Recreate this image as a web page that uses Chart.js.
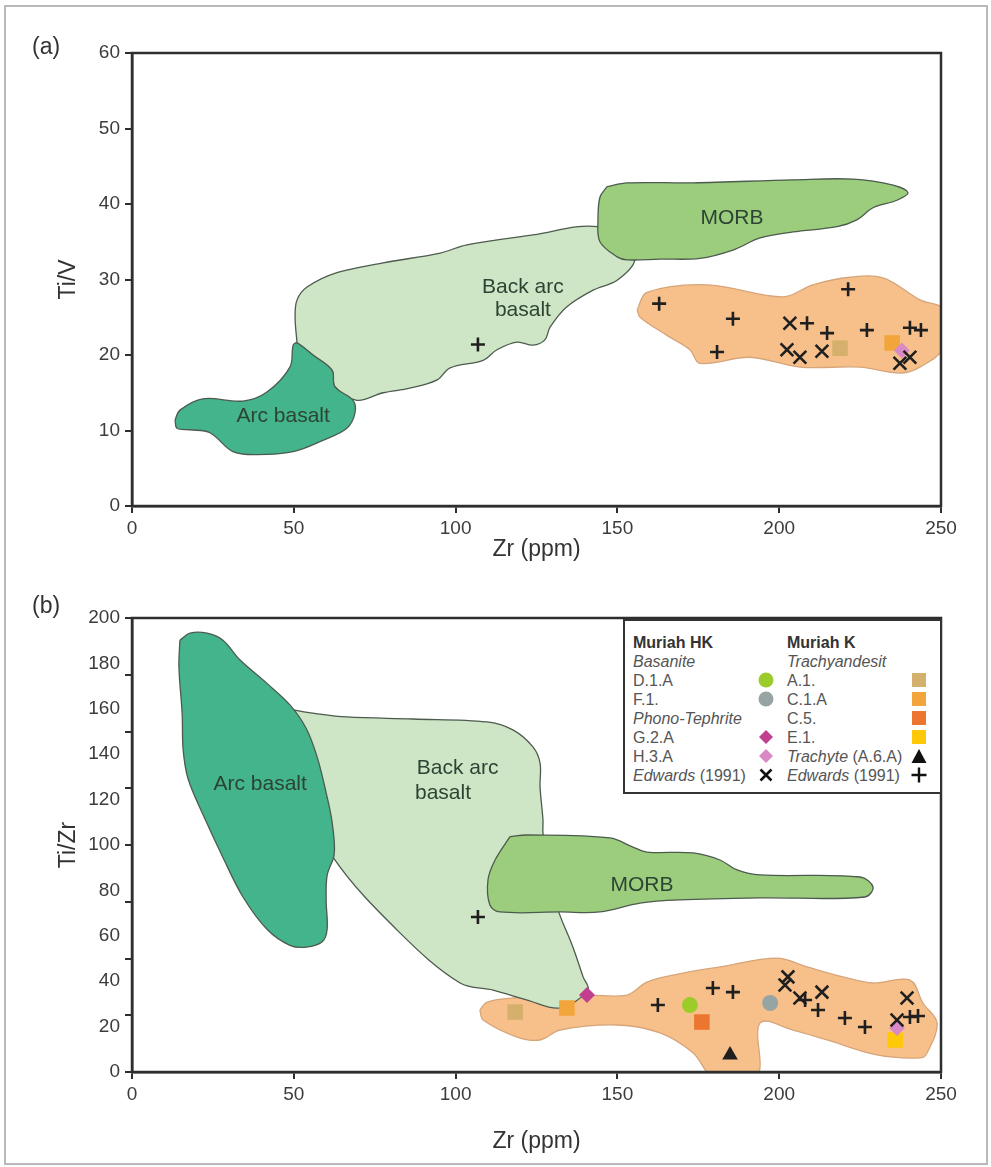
<!DOCTYPE html>
<html>
<head>
<meta charset="utf-8">
<script src="https://cdn.jsdelivr.net/npm/chart.js@4.4.1/dist/chart.umd.min.js"></script>
<style>
  body { margin: 0; background: #fff; }
  #page { position: relative; width: 991px; height: 1167px; overflow: hidden; font-family: "Liberation Sans", Arial, sans-serif; color: #333; }
  #frame { position: absolute; left: 4px; top: 5px; width: 984px; height: 1160px; border: 2px solid #b9b9b9; box-sizing: border-box; }
  canvas { position: absolute; left: 0; }
  #chartA { top: 0; }
  #chartB { top: 575px; }
  .tag { position: absolute; left: 32px; font-size: 23px; color: #333; }
  #legend { position: absolute; left: 623px; top: 619px; width: 319px; height: 175px; box-sizing: border-box;
            border: 2px solid #333; background: #fff; font-size: 16px; color: #555; }
  #legend .row { position: absolute; height: 19px; line-height: 19px; white-space: nowrap; }
  #legend b { color: #333; }
  #legend svg { position: absolute; width: 18px; height: 18px; }
</style>
</head>
<body>
<div id="page">
  <div id="frame"></div>
  <canvas id="chartA" width="991" height="575"></canvas>
  <canvas id="chartB" width="991" height="592"></canvas>
  <div class="tag" style="top:33px">(a)</div>
  <div class="tag" style="top:592px">(b)</div>
  <div id="legend"></div>
</div>
<script>
// axis ticks
const zrTicks = [0, 50, 100, 150, 200, 250];
const tiVTicks = [0, 10, 20, 30, 40, 50, 60];
const tiZrTicks = [0, 20, 40, 60, 80, 100, 120, 140, 160, 180, 200];

// fields, panel (a): [Zr, Ti/V]
const arcA = [[13.3,11.4],[14.8,12.7],[21.9,14.2],[34.3,13.9],[41.7,15.1],[48.8,18.4],[49.8,21.3],[51.0,21.6],[55.9,20.0],
  [61.8,18.0],[62.7,15.8],[68.3,14.0],[68.9,12.3],[66.4,10.3],[59.0,8.7],[49.8,7.2],[38.6,6.8],[31.2,7.2],[24.1,9.7],
  [17.9,10.1],[13.9,10.3],[13.3,11.4]];
const backArcA = [[51.0,21.6],[50.4,25.0],[51.0,27.3],[54.1,29.0],[63.3,30.9],[77.6,32.2],[95.2,33.5],[103.5,34.6],
  [123.9,35.9],[143.7,37.0],[151.7,34.3],[155.4,32.6],[149.9,29.9],[142.5,28.6],[134.4,26.4],[129.2,23.7],[127.6,22.0],
  [123.9,21.3],[119.0,21.7],[112.8,20.7],[108.5,19.3],[98.3,18.3],[94.3,16.7],[85.9,15.6],[77.6,15.0],[69.5,14.0],
  [62.7,15.8],[61.8,18.0],[55.9,20.0],[51.0,21.6]];
const morbA = [[146.8,42.3],[153.0,42.8],[173.4,42.8],[204.3,43.2],[222.8,43.3],[235.2,42.5],[239.8,41.5],[236.4,40.5],
  [229.0,39.5],[224.0,37.9],[217.9,37.0],[204.3,36.3],[194.1,35.5],[185.7,33.9],[175.5,32.8],[163.2,32.7],[153.0,32.6],
  [149.9,33.0],[144.6,35.0],[144.0,37.9],[144.6,40.9],[146.8,42.3]];
const muriahA = [[156.1,26.0],[159.1,28.3],[177.7,29.3],[201.2,27.7],[210.4,29.3],[221.9,30.3],[232.1,30.2],[243.5,27.3],
  [251,26.0],[251,21.1],[243.5,18.4],[237.3,17.6],[225.0,18.4],[206.4,18.4],[191.0,19.7],[175.5,18.9],[172.4,20.7],
  [165.3,22.6],[157.0,25.0],[156.1,26.0]];

// samples, panel (a)
const edwPlusA = [[106.9,21.4],[162.9,26.8],[185.7,24.8],[180.8,20.4],[208.6,24.2],[214.8,22.9],[221.3,28.7],[227.1,23.3],[240.4,23.6],[243.8,23.3]];
const edwCrossA = [[203.3,24.2],[202.4,20.7],[206.4,19.7],[213.2,20.5],[240.4,19.7],[237.3,18.9]];
const a1A = [[218.8,20.9]];
const c1aA = [[234.9,21.6]];
const h3aA = [[237.9,20.6]];

// fields, panel (b): [Zr, Ti/Zr]
const arcB = [[14.8,190.2],[17.9,193.3],[23.2,193.3],[28.1,190.2],[33.4,181.5],[41.7,171.2],[48.8,161.7],[53.8,151.4],
  [57.2,138.8],[60.0,123.0],[61.8,110.4],[62.5,96.1],[60.3,86.6],[60.0,75.6],[60.3,62.9],[58.8,57.4],[53.8,55.0],
  [48.8,55.8],[41.7,62.9],[34.3,77.1],[28.1,94.5],[21.9,113.5],[17.3,129.3],[15.8,142.0],[15.5,157.8],[14.5,178.3],[14.8,190.2]];
const backArcB = [[49.8,159.5],[55.9,158.1],[66.4,156.4],[86.8,155.5],[109.7,154.2],[117.7,150.7],[123.9,143.2],[126.1,136.1],
  [126.1,125.6],[127.0,111.0],[127.0,105.3],[129.0,85.0],[132.0,70.0],[135.4,58.1],[136.9,52.4],[139.4,41.9],[140.9,36.1],
  [132.3,28.2],[122.1,31.7],[111.6,36.1],[101.4,39.2],[82.8,61.3],[62.1,94.7],[50.0,130.0],[49.8,159.5]];
const morbB = [[116.8,103.7],[122.1,104.4],[147.7,103.1],[154.8,99.1],[159.1,96.9],[173.4,96.5],[181.7,93.4],[187.0,89.0],
  [194.1,86.8],[225.0,85.9],[229.0,81.5],[226.5,77.1],[194.1,76.7],[169.3,75.8],[157.0,74.4],[144.6,70.5],[132.3,70.5],
  [113.7,70.5],[110.6,73.6],[110.0,84.6],[112.2,93.4],[116.8,103.7]];
const muriahB = [[107.5,27.3],[109.7,30.8],[117.7,32.6],[140.6,33.9],[153.0,33.9],[159.1,39.6],[167.2,42.7],[181.7,46.3],
  [199.3,50.2],[208.6,46.3],[219.7,41.9],[229.0,39.2],[240.4,40.5],[244.4,30.4],[248.8,21.6],[245.7,8.4],[243.5,6.2],
  [230.2,7.5],[214.8,14.1],[204.3,18.5],[194.1,21.6],[193.1,-2],[179.5,-2],[173.4,8.4],[163.2,17.2],[149.9,20.7],
  [132.3,18.5],[126.1,14.1],[119.0,15.4],[108.5,22.9],[107.5,27.3]];

// samples, panel (b)
const edwPlusB = [[106.9,68.3],[162.5,29.5],[179.5,37.0],[185.7,35.2],[208.0,31.7],[212.0,27.3],[220.3,23.8],[226.5,19.8],[240.4,24.2],[242.9,24.7]];
const edwCrossB = [[202.7,41.9],[201.8,38.3],[206.4,32.6],[213.2,35.2],[239.5,32.6],[236.4,22.9]];
const d1aB = [[172.4,29.5]];
const f1B = [[197.2,30.4]];
const g2aB = [[140.6,33.9]];
const h3aB = [[236.4,19.4]];
const a1B = [[118.4,26.4]];
const c1aB = [[134.4,28.2]];
const c5B = [[176.1,22.0]];
const e1B = [[235.8,14.1]];
const a6aB = [[184.8,7.5]];

const xy = arr => arr.map(p => ({ x: p[0], y: p[1] }));

const COL = {
  arc: '#43b48b', backArc: '#cee6c5', morb: '#9ccd7d', muriah: '#f7c08a',
  edge: '#4d5b4f', muriahEdge: '#d6a57a',
  d1a: '#9bcc2c', f1: '#96a5a4', g2a: '#c23f90', h3a: '#d98ac6',
  a1: '#d5b06c', c1a: '#f2a53a', c5: '#ec7630', e1: '#ffc907', ink: '#1f1f1f'
};

function field(data, fill, edge, order) {
  return { type: 'line', data: xy(data), fill: 'shape', backgroundColor: fill, borderColor: edge,
           borderWidth: 1.3, tension: 0.35, pointRadius: 0, order: order };
}
function marks(data, style, color, radius, order) {
  const line = style === 'cross' || style === 'crossRot';
  return { type: 'scatter', data: xy(data), pointStyle: style, pointRadius: radius,
           backgroundColor: color, borderColor: line ? COL.ink : color, borderWidth: line ? 2.6 : 0, order: order || 0 };
}

const frame = {
  id: 'frame',
  afterDatasetsDraw(chart) {
    const { ctx, chartArea: a } = chart;
    ctx.save();
    ctx.strokeStyle = '#2e2e2e';
    ctx.lineWidth = 2.5;
    ctx.strokeRect(a.left, a.top, a.right - a.left, a.bottom - a.top);
    ctx.restore();
  }
};

const regionText = {
  id: 'regionText',
  afterDatasetsDraw(chart, args, opts) {
    const { ctx, scales: { x, y } } = chart;
    ctx.save();
    ctx.font = '21px "Liberation Sans", Arial, sans-serif';
    ctx.fillStyle = '#2c4434';
    ctx.textAlign = 'center';
    ctx.textBaseline = 'middle';
    (opts.items || []).forEach(it => ctx.fillText(it.text, x.getPixelForValue(it.at[0]), y.getPixelForValue(it.at[1])));
    ctx.restore();
  }
};

const tickFont = { family: '"Liberation Sans", Arial, sans-serif', size: 19 };
const titleFont = { family: '"Liberation Sans", Arial, sans-serif', size: 23 };

function xAxis(height) {
  return {
    type: 'linear', min: 0, max: 250,
    afterBuildTicks: s => { s.ticks = zrTicks.map(v => ({ value: v })); },
    afterFit: s => { s.height = height; },
    ticks: { font: tickFont, color: '#3c3c3c', padding: 4, maxRotation: 0 },
    grid: { drawOnChartArea: false, tickLength: 7, color: '#2e2e2e', lineWidth: 2 },
    border: { color: '#2e2e2e', width: 2.5 },
    title: { display: true, text: 'Zr (ppm)', font: titleFont, color: '#333', padding: { bottom: 12 } }
  };
}

function yAxis(max, labelTicks, markStep, title) {
  return {
    type: 'linear', min: 0, max: max,
    afterBuildTicks: s => {
      const vals = new Set(labelTicks);
      for (let v = 0; v <= max; v += markStep) vals.add(v);
      s.ticks = [...vals].sort((a, b) => a - b).map(v => ({ value: v }));
    },
    afterFit: s => { s.width = 132; },
    ticks: {
      font: tickFont, color: '#3c3c3c', padding: 5, autoSkip: false,
      callback: v => labelTicks.includes(v) ? String(v) : ''
    },
    grid: {
      drawOnChartArea: false, tickLength: 7, lineWidth: 2,
      color: c => (c.tick && c.tick.value % markStep === 0) ? '#2e2e2e' : 'rgba(0,0,0,0)'
    },
    border: { color: '#2e2e2e', width: 2.5 },
    title: { display: true, text: title, font: titleFont, color: '#333', padding: { top: 55 } }
  };
}

function baseOptions(yScale, bottomHeight, topPad, labels) {
  return {
    responsive: false, animation: false, devicePixelRatio: 1,
    layout: { padding: { top: topPad, right: 50, left: 0, bottom: 0 } },
    scales: { x: xAxis(bottomHeight), y: yScale },
    plugins: { legend: { display: false }, tooltip: { enabled: false }, regionText: { items: labels } }
  };
}

new Chart(document.getElementById('chartA'), {
  type: 'scatter',
  data: {
    datasets: [
      marks(edwPlusA, 'cross', COL.ink, 7),
      marks(edwCrossA, 'crossRot', COL.ink, 9),
      marks(h3aA, 'rectRot', COL.h3a, 8),
      marks(a1A, 'rect', COL.a1, 11),
      marks(c1aA, 'rect', COL.c1a, 11),
      field(morbA, COL.morb, COL.edge, 1),
      field(arcA, COL.arc, COL.edge, 2),
      field(backArcA, COL.backArc, COL.edge, 3),
      field(muriahA, COL.muriah, COL.muriahEdge, 4)
    ]
  },
  options: baseOptions(yAxis(60, tiVTicks, 10, 'Ti/V'), 69, 53, [
    { text: 'Arc basalt', at: [46.7, 11.9] },
    { text: 'Back arc', at: [120.8, 29.0] },
    { text: 'basalt', at: [120.8, 25.9] },
    { text: 'MORB', at: [185.4, 38.1] }
  ]),
  plugins: [frame, regionText]
});

new Chart(document.getElementById('chartB'), {
  type: 'scatter',
  data: {
    datasets: [
      marks(edwPlusB, 'cross', COL.ink, 7),
      marks(edwCrossB, 'crossRot', COL.ink, 9),
      marks(a6aB, 'triangle', COL.ink, 9),
      marks(h3aB, 'rectRot', COL.h3a, 8),
      marks(g2aB, 'rectRot', COL.g2a, 8),
      marks(d1aB, 'circle', COL.d1a, 8),
      marks(f1B, 'circle', COL.f1, 8),
      marks(e1B, 'rect', COL.e1, 11),
      marks(c5B, 'rect', COL.c5, 11),
      marks(c1aB, 'rect', COL.c1a, 11),
      marks(a1B, 'rect', COL.a1, 11),
      field(morbB, COL.morb, COL.edge, 1),
      field(arcB, COL.arc, COL.edge, 2),
      field(backArcB, COL.backArc, COL.edge, 3),
      field(muriahB, COL.muriah, COL.muriahEdge, 4)
    ]
  },
  options: baseOptions(yAxis(200, tiZrTicks, 25, 'Ti/Zr'), 95, 43, [
    { text: 'Arc basalt', at: [39.6, 127.0] },
    { text: 'Back arc', at: [100.6, 133.9] },
    { text: 'basalt', at: [96.1, 122.9] },
    { text: 'MORB', at: [157.6, 82.4] }
  ]),
  plugins: [frame, regionText]
});

// legend of panel (b)
const legendLeft = [
  ['<b>Muriah HK</b>', null], ['<i>Basanite</i>', null], ['D.1.A', 'circle:' + COL.d1a], ['F.1.', 'circle:' + COL.f1],
  ['<i>Phono-Tephrite</i>', null], ['G.2.A', 'diamond:' + COL.g2a], ['H.3.A', 'diamond:' + COL.h3a], ['<i>Edwards</i> (1991)', 'x']
];
const legendRight = [
  ['<b>Muriah K</b>', null], ['<i>Trachyandesit</i>', null], ['A.1.', 'square:' + COL.a1], ['C.1.A', 'square:' + COL.c1a],
  ['C.5.', 'square:' + COL.c5], ['E.1.', 'square:' + COL.e1], ['<i>Trachyte</i> (A.6.A)', 'triangle'], ['<i>Edwards</i> (1991)', 'plus']
];

function symbol(kind) {
  const [shape, color] = kind.split(':');
  const body = {
    circle: `<circle cx="9" cy="9" r="7.5" fill="${color}"/>`,
    square: `<rect x="2" y="2" width="14" height="14" fill="${color}"/>`,
    diamond: `<polygon points="9,2 16,9 9,16 2,9" fill="${color}"/>`,
    triangle: `<polygon points="9,2 16.5,16 1.5,16" fill="#111"/>`,
    x: `<path d="M3.5 3.5 L14.5 14.5 M14.5 3.5 L3.5 14.5" stroke="#111" stroke-width="2.6"/>`,
    plus: `<path d="M9 1.5 V16.5 M1.5 9 H16.5" stroke="#111" stroke-width="2.4"/>`
  }[shape];
  return `<svg viewBox="0 0 18 18">${body}</svg>`;
}

const legend = document.getElementById('legend');
function fillColumn(rows, textX, markX) {
  rows.forEach((r, i) => {
    const top = 12 + i * 19;
    legend.insertAdjacentHTML('beforeend', `<div class="row" style="left:${textX}px;top:${top}px">${r[0]}</div>`);
    if (r[1]) {
      legend.insertAdjacentHTML('beforeend', `<div class="row" style="left:${markX - 9}px;top:${top}px">${symbol(r[1])}</div>`);
    }
  });
}
fillColumn(legendLeft, 8, 141);
fillColumn(legendRight, 162, 294);
</script>
</body>
</html>
